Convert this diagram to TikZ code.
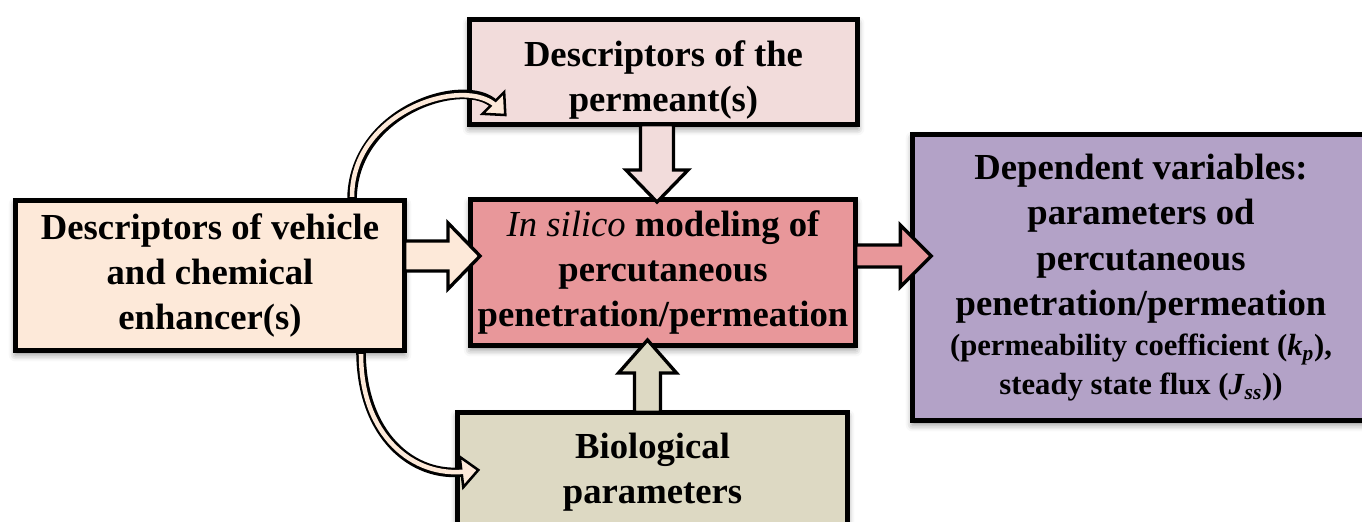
\documentclass[tikz,border=0pt]{standalone}
\usepackage{fontspec}
\setmainfont{Liberation Serif}
\usetikzlibrary{calc,shadows.blur}
\definecolor{peach}{HTML}{FDE9D9}
\definecolor{pinkl}{HTML}{F2DCDB}
\definecolor{redc}{HTML}{E8979A}
\definecolor{tanb}{HTML}{DDD9C3}
\definecolor{purp}{HTML}{B3A2C7}
\tikzset{
  box/.style={draw=black, line width=3.5pt, inner sep=0pt, outer sep=0pt,
    align=center, font=\fontsize{27.5}{34}\selectfont\bfseries,
    blur shadow={shadow xshift=0pt, shadow yshift=-3pt, shadow blur radius=5pt, shadow opacity=45}},
  blockarrow/.style n args={3}{draw=black, line width=2.5pt, line join=miter,
    to path={
      let \p1=(\tikztostart), \p2=(\tikztotarget),
          \n1={atan2(\y2-\y1,\x2-\x1)}
      in ($(\p1)+({\n1+90}:#1)$)
      -- ($(\p2)+({\n1+180}:#3)+({\n1+90}:#1)$)
      -- ($(\p2)+({\n1+180}:#3)+({\n1+90}:#2)$)
      -- (\p2)
      -- ($(\p2)+({\n1+180}:#3)+({\n1-90}:#2)$)
      -- ($(\p2)+({\n1+180}:#3)+({\n1-90}:#1)$)
      -- ($(\p1)+({\n1-90}:#1)$) -- cycle
    }},
  headtri/.style={draw=black, line width=1.9pt, line join=miter, fill=peach,
    to path={
      let \p1=(\tikztostart), \p2=(\tikztotarget),
          \n1={atan2(\y2-\y1,\x2-\x1)}
      in ($(\p1)+({\n1+90}:#1)$) -- (\p2) -- ($(\p1)+({\n1-90}:#1)$) -- cycle
    }},
  cshaft/.style={line width=7.2pt, draw=black, shorten >=11pt},
  cinner/.style={line width=3.4pt, draw=peach, shorten >=9pt, shorten <=2.6pt},
}
\begin{document}
\begin{tikzpicture}[x=0.75pt,y=-0.75pt]
\useasboundingbox (0,0) rectangle (1362,521);
\clip (0,0) rectangle (1362,521);

\path (210,275.5) node[box, fill=peach, minimum width=292pt, minimum height=112.8pt] (L)
  {Descriptors of vehicle\\and chemical\\enhancer(s)};
\path (663.5,72) node[box, fill=pinkl, minimum width=291.3pt, minimum height=79pt] (P)
  {\rule{0pt}{31pt}Descriptors of the\\permeant(s)};
\path (652.5,472) node[box, fill=tanb, minimum width=292.8pt, minimum height=89.5pt] (B)
  {Biological\\parameters};
\path (663,272.5) node[box, fill=redc, minimum width=289pt, minimum height=109.8pt] (C)
  {\textmd{\textit{In silico}} modeling of\\percutaneous\\penetration/permeation};
\path (1141,277.5) node[box, fill=purp, minimum width=343pt, minimum height=214.8pt] (D)
  {Dependent variables:\\parameters od\\percutaneous\\penetration/permeation\\[-4pt]%
   {\fontsize{23}{29}\selectfont (permeability coefficient (\textit{k}\textsubscript{\textit{p}}),}\\[-5pt]%
   {\fontsize{23}{29}\selectfont steady state flux (\textit{J}\textsubscript{\textit{ss}}))}};

% curved arrows
\coordinate (c1s) at ($(L.north)+(142,0)$);
\coordinate (c1e) at ($(P.west)+(36,43)$);
\coordinate (h1b) at ($(c1e)+(-12,-12)$);
\coordinate (c2s) at ($(L.south)+(151,0)$);
\coordinate (c2e) at ($(B.west)+(21,-2)$);
\coordinate (h2b) at ($(c2e)+(-16.8,2)$);

\draw[cshaft] (c1s) .. controls ($(c1s)+(0,-90)$) and ($(c1e)+(-40,-40)$) .. (c1e);
\draw[headtri=11.5pt] (h1b) to (c1e);
\draw[cinner] (c1s) .. controls ($(c1s)+(0,-90)$) and ($(c1e)+(-40,-40)$) .. (c1e);

\draw[cshaft] (c2s) .. controls ($(c2s)+(0,85)$) and ($(c2e)+(-65,8)$) .. (c2e);
\draw[headtri=11.5pt] (h2b) to (c2e);
\draw[cinner] (c2s) .. controls ($(c2s)+(0,85)$) and ($(c2e)+(-65,8)$) .. (c2e);

% block arrows
\coordinate (a1s) at ($(L.east)+(0,-19.5)$);
\coordinate (a1e) at ($(C.west)+(9.7,-16.5)$);
\coordinate (a2s) at ($(P.south)+(-6.5,0)$);
\coordinate (a2e) at ($(C.north)+(-6,2.7)$);
\coordinate (a3s) at ($(B.north)+(-5,0)$);
\coordinate (a3e) at ($(C.south)+(-15.5,-5.7)$);
\coordinate (a4s) at ($(C.east)+(0,-16.5)$);
\coordinate (a4e) at ($(D.west)+(19,-21.5)$);
\draw[blockarrow={11.25pt}{24.75pt}{24pt}, fill=peach] (a1s) to (a1e);
\draw[blockarrow={12.4pt}{23.3pt}{24pt}, fill=pinkl] (a2s) to (a2e);
\draw[blockarrow={9.75pt}{21.75pt}{24.75pt}, fill=tanb] (a3s) to (a3e);
\draw[blockarrow={8.25pt}{23.25pt}{23.25pt}, fill=redc] (a4s) to (a4e);
\end{tikzpicture}
\end{document}
